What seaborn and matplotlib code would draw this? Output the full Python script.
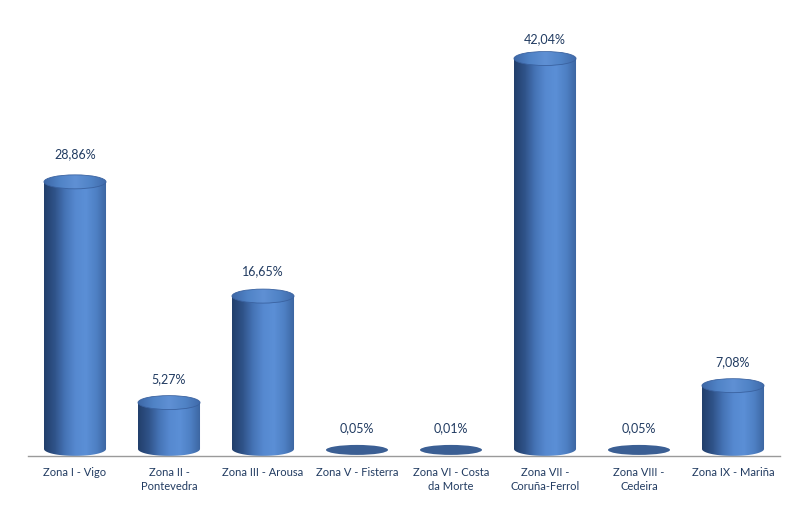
import numpy as np
import matplotlib
matplotlib.use("Agg")
import matplotlib.pyplot as plt
from matplotlib.patches import Ellipse, PathPatch
from matplotlib.path import Path
from matplotlib.colors import LinearSegmentedColormap
import seaborn as sns

# data
zonas = ["Zona I - Vigo", "Zona II -\nPontevedra", "Zona III - Arousa",
         "Zona V - Fisterra", "Zona VI - Costa\nda Morte", "Zona VII -\nCoruña-Ferrol",
         "Zona VIII -\nCedeira", "Zona IX - Mariña"]
valores = [28.86, 5.27, 16.65, 0.05, 0.01, 42.04, 0.05, 7.08]
etiquetas = ["28,86%", "5,27%", "16,65%", "0,05%", "0,01%", "42,04%", "0,05%", "7,08%"]

sns.set_style("white")
plt.rcParams["font.family"] = ["Lato", "DejaVu Sans"]

text_col = "#213b61"
fig = plt.figure(figsize=(8, 5.14), dpi=100)
ax = fig.add_axes([0.035, 0.113, 0.94, 0.848])

sns.barplot(x=zonas, y=valores, color="#4a78bd", width=0.66, ax=ax, saturation=1)

ymin, ymax = -0.43, 46.15
ax.set_ylim(ymin, ymax)
ax.set_xlim(-0.5, len(zonas) - 0.5)
px = (ymax - ymin) / (0.848 * 514)  # data units per pixel

body = LinearSegmentedColormap.from_list(
    "cyl", ["#223f6b", "#2f5288", "#4573b5", "#5689d0", "#5b8fd6", "#4e80c4", "#3b649f"])
top = LinearSegmentedColormap.from_list(
    "cyltop", ["#3d67a6", "#5083c6", "#5f90d4", "#5083c6", "#3f69a8"])
grad = np.linspace(0, 1, 256).reshape(1, -1)

eh = 14 * px          # cap height
y0 = ymin + eh / 2    # centre of bottom ellipse
for patch, v, lab in zip(ax.patches, valores, etiquetas):
    x0 = patch.get_x()
    w = patch.get_width()
    cx = x0 + w / 2
    patch.set_visible(False)
    if v > 0.5:
        t = np.linspace(np.pi, 2 * np.pi, 60)
        bx = cx + (w / 2) * np.cos(t)
        by = y0 + (eh / 2) * np.sin(t)
        verts = list(zip(bx, by)) + [(x0 + w, v), (x0, v), (bx[0], by[0])]
        codes = [Path.MOVETO] + [Path.LINETO] * (len(verts) - 2) + [Path.CLOSEPOLY]
        clip = PathPatch(Path(verts, codes), transform=ax.transData,
                         facecolor="none", edgecolor="none")
        ax.add_patch(clip)
        im = ax.imshow(grad, cmap=body, aspect="auto",
                       extent=[x0, x0 + w, ymin, v], zorder=2)
        im.set_clip_path(clip)
        cap = Ellipse((cx, v), w, eh, facecolor="none", edgecolor="none")
        ax.add_patch(cap)
        im2 = ax.imshow(grad, cmap=top, aspect="auto",
                        extent=[x0, x0 + w, v - eh / 2, v + eh / 2], zorder=3)
        im2.set_clip_path(cap)
        ax.add_patch(Ellipse((cx, v), w, eh, facecolor="none",
                             edgecolor="#3a62a0", lw=0.6, zorder=4))
        ytxt = min(v + (22 + 0.2 * v) * px, 44.1)
    else:
        ax.add_patch(Ellipse((cx, ymin + 6 * px), w, 10 * px, facecolor="#3b5f94",
                             edgecolor="none", zorder=3))
        ytxt = 24 * px
    ax.text(cx, ytxt, lab, ha="center", va="center", fontsize=9, color=text_col)

ax.set_ylabel("")
ax.set_yticks([])
for s in ["left", "right", "top"]:
    ax.spines[s].set_visible(False)
ax.spines["bottom"].set_color("#9a9a9a")
ax.spines["bottom"].set_linewidth(1.0)

ax.set_xticks(range(len(zonas)))
ax.set_xticklabels(zonas, fontsize=8, color=text_col, linespacing=1.3)
ax.tick_params(axis="x", which="major", length=0, pad=8)
ax.set_xticks(np.arange(-0.5, len(zonas), 1.0), minor=True)
ax.tick_params(axis="x", which="minor", length=4, color="#9a9a9a", direction="out")

fig.savefig("out.png", dpi=100)
